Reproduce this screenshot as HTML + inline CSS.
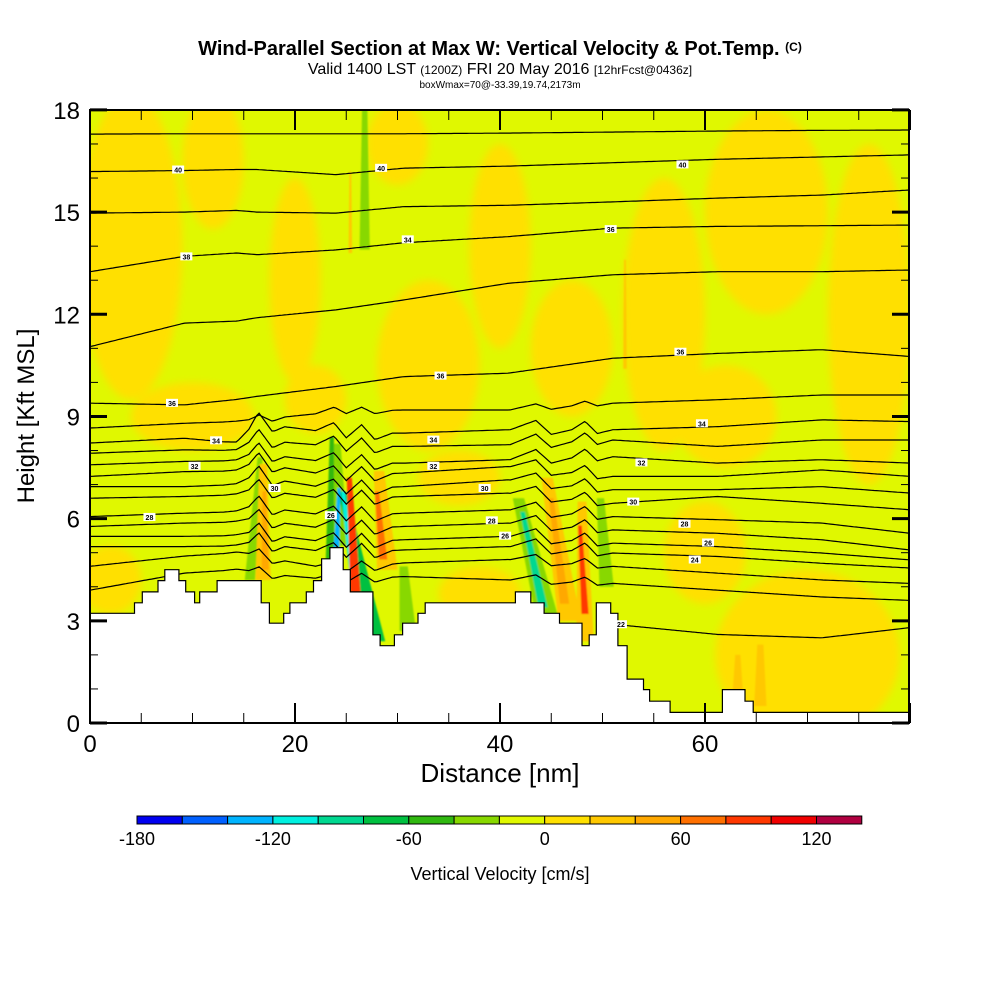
<!DOCTYPE html>
<html><head><meta charset="utf-8"><style>
html,body{margin:0;padding:0;background:#fff;}
svg{display:block;font-family:"Liberation Sans",sans-serif;}
</style></head><body>
<svg id="chart" width="1000" height="1000" viewBox="0 0 1000 1000" xmlns="http://www.w3.org/2000/svg">
<defs>
<clipPath id="plotclip"><rect x="90" y="110" width="819" height="613"/></clipPath>
<filter id="soft" x="-20%" y="-20%" width="140%" height="140%"><feGaussianBlur stdDeviation="4"/></filter>
<filter id="soft2" x="-50%" y="-50%" width="200%" height="200%"><feGaussianBlur stdDeviation="0.8"/></filter>
</defs>
<text x="500" y="55" text-anchor="middle" font-size="20" font-weight="bold">Wind-Parallel Section at Max W: Vertical Velocity &amp; Pot.Temp. <tspan font-size="12" dy="-4">(C)</tspan></text>
<text x="500" y="74" text-anchor="middle" font-size="16">Valid 1400 LST <tspan font-size="12">(1200Z)</tspan> FRI 20 May 2016 <tspan font-size="12">[12hrFcst@0436z]</tspan></text>
<text x="500" y="88" text-anchor="middle" font-size="10">boxWmax=70@-33.39,19.74,2173m</text>
<g id="plot" clip-path="url(#plotclip)"></g>
<g id="axes"></g>
<g id="cbar"></g>
<text x="500" y="782" text-anchor="middle" font-size="26">Distance [nm]</text>
<text transform="translate(34,416) rotate(-90)" text-anchor="middle" font-size="24">Height [Kft MSL]</text>
<text x="500" y="880" text-anchor="middle" font-size="18">Vertical Velocity [cm/s]</text>
</svg>
<script>
// ---- data ----
const colorLevels = [-180,-160,-140,-120,-100,-80,-60,-40,-20,0,20,40,60,80,100,120,140];
const colorFills = ["#0000f0","#0060ff","#00b4ff","#00f0e0","#00d890","#00c040","#30b810","#88d800","#e0f800","#ffe000","#ffc800","#ffa800","#ff7000","#ff3800","#f00000","#b00040"];
const cbarTicks = [-180,-120,-60,0,60,120];
const xTicks = [0,20,40,60];
const yTicks = [0,3,6,9,12,15,18];
const contourX = [0,9.2,14.3,16.3,24,30.6,40.8,51,61.2,71.4,80];
const c1=[17.29,17.3,17.3,17.3,17.3,17.3,17.32,17.35,17.38,17.4,17.41];
const c2=[16.19,16.22,16.25,16.25,16.1,16.29,16.35,16.45,16.55,16.62,16.68];
const c3=[14.97,15.0,15.05,15.0,14.97,15.16,15.2,15.3,15.41,15.5,15.65];
const c4=[13.25,13.7,13.8,13.75,13.89,14.1,14.28,14.53,14.58,14.6,14.62];
const c5=[11.05,11.74,11.8,11.9,12.13,12.42,12.91,13.16,13.25,13.25,13.3];
const c6=[9.39,9.34,9.5,9.59,9.88,10.17,10.27,10.71,10.85,10.96,10.76];
const c7=[8.66,8.8,8.85,8.9,9.14,9.19,9.19,9.39,9.49,9.63,9.63];
const c8=[8.22,8.36,8.22,8.8,8.51,8.51,8.61,8.61,8.7,8.9,8.85];
const c9=[7.92,8.02,8.0,8.31,8.12,8.12,8.17,8.31,8.12,8.31,8.31];
const c10=[7.58,7.68,7.7,7.92,7.63,7.63,7.73,7.82,7.63,7.73,7.63];
const c11=[7.24,7.38,7.4,7.63,7.24,7.34,7.53,7.24,7.24,7.43,7.24];
const c12=[6.94,6.94,7.0,7.24,6.85,6.94,7.14,6.85,6.85,6.94,6.75];
const c13=[6.6,6.65,6.7,6.85,6.55,6.65,6.75,6.45,6.65,6.45,6.26];
const c14=[6.06,6.16,6.2,6.36,6.06,6.16,6.26,6.06,5.97,5.87,5.57];
const c15=[5.77,5.87,5.9,5.97,5.67,5.77,5.87,5.67,5.57,5.38,5.08];
const c16=[5.48,5.48,5.5,5.57,5.28,5.38,5.48,5.28,5.18,4.99,4.79];
const c17=[5.18,5.18,5.2,5.28,4.99,5.08,5.18,4.99,4.89,4.69,4.55];
const c18=[4.6,4.9,5.0,4.9,4.5,4.7,4.8,4.6,4.4,4.2,4.1];
const c19=[3.9,4.4,4.5,4.4,4.2,4.3,4.2,4.1,3.9,3.7,3.6];
const c20=[null,null,null,null,null,null,null,2.9,2.6,2.5,2.8];
const contours=[c1,c2,c3,c4,c5,c6,c7,c8,c9,c10,c11,c12,c13,c14,c15,c16,c17,c18,c19,c20];
// mountain-wave displacement (kft) near the ridges, scaled per contour
const waveX=[13,15.5,16.5,17.8,19,22,23.8,25,26.5,27.8,29.5,41,43.5,45,47,48.3,49.5,51];
const waveDZ=[0,0.1,0.55,-0.35,0,0,0.55,-0.25,0.45,-0.35,0,0,0.5,-0.25,0,0.45,-0.2,0];
const waveAmp=[0,0,0,0,0,0,0.25,0.55,0.55,0.55,0.55,0.55,0.55,0.55,0.55,0.55,0.55,0.4,0.35,0];
const contourLabels=[["40",8.6,16.25],["40",57.8,16.4],["40",28.4,16.3],["38",9.4,13.7],["34",31,14.2],["36",50.8,14.5],["36",57.6,10.9],["36",34.2,10.2],["36",8,9.4],["34",12.3,8.3],["34",33.5,8.32],["34",59.7,8.8],["32",10.2,7.55],["32",33.5,7.55],["32",53.8,7.65],["30",18,6.9],["30",38.5,6.9],["30",53,6.5],["28",5.8,6.05],["28",39.2,5.95],["28",58,5.85],["26",40.5,5.5],["26",60.3,5.3],["26",23.5,6.1],["24",59,4.8],["22",51.8,2.9]];
const terrainX=[0,4.34,5.1,6.63,7.3,8.67,9.34,10.2,10.7,12.4,16.7,17.5,18.9,19.5,21.1,21.8,22.6,23.4,24.7,25.4,27.6,28.3,29.7,30.5,32.0,32.7,41.5,43.0,44.3,45.8,48.0,48.7,49.4,50.8,51.5,52.4,54.0,54.6,56.6,61.7,63.9,64.7,80];
const terrainZ=[3.22,3.53,3.85,4.18,4.5,4.18,3.85,3.53,3.85,4.18,3.53,2.93,3.22,3.53,3.85,4.18,4.82,5.15,4.5,3.85,2.59,2.27,2.59,2.93,3.22,3.53,3.85,3.53,3.22,2.93,2.27,2.59,3.53,3.22,2.27,1.29,0.98,0.64,0.31,0.98,0.64,0.31,0.31];
const patchCX=[4,12,20,33,40,47,56,66,76,70,60,10,36,38,2,30,62,22];
const patchCZ=[14,16.5,13,10.5,14,11,12,15,12,2,5,9,7.2,3.8,4.2,17,9,9.5];
const patchRX=[5,3,2.5,5,3,4,4,6,4,9,4,6,4,4,3,3,5,3];
const patchRZ=[4.5,2,3,2.5,3,2,4,3,5,2.5,1.5,1,0.8,0.8,1,1.2,1.5,1];
const patchV=[10,10,10,10,10,10,10,10,10,10,10,10,10,10,10,10,10,10];
const streakX0=[15.6,16.9,17.1,24.3,23.4,28.0,26.1,25.9,29.0,28.6,31.0,44.6,44.2,46.8,46.3,48.3,48.3,50.4,26.8,25.4,52.2,65.4,63.2,24.0];
const streakZ0=[4.2,4.2,4.5,5.2,4.8,2.4,3.0,3.8,4.5,4.8,2.7,3.1,3.4,3.0,3.5,2.4,3.2,4.0,13.9,13.8,10.4,0.5,0.9,4.8];
const streakX1=[16.6,16.9,17.0,24.0,23.6,24.6,24.7,25.3,28.2,28.0,30.6,41.8,42.2,44.6,45.0,48.0,47.8,49.8,26.8,25.4,52.2,65.4,63.2,24.3];
const streakZ1=[7.8,7.6,6.8,8.2,8.4,6.8,6.8,7.2,7.4,6.8,4.6,6.6,6.2,7.2,6.6,6.5,5.8,6.6,18.2,16.2,13.6,2.3,2.0,6.9];
const streakW=[1.0,1.5,0.7,1.8,0.8,1.6,0.7,1.0,2.0,0.8,1.6,2.2,0.9,2.2,0.9,1.7,0.7,1.4,1.0,0.35,0.35,1.2,1.0,0.6];
const streakV=[-30,30,50,-30,-50,-70,-110,90,30,70,-30,-30,-90,30,50,30,80,-30,-30,30,30,30,30,-130];

// ---- axis functions ----
const X = nm => 90 + nm*10.25;
const Y = k => 723 - k*34.06;
const CBX = v => 137 + (v+180)*(45.3/20);
const NS="http://www.w3.org/2000/svg";
function mk(tag, attrs, parent){const e=document.createElementNS(NS,tag);for(const k in attrs)e.setAttribute(k,attrs[k]);parent.appendChild(e);return e;}
function colorOf(v){for(let i=0;i<colorFills.length;i++){if(v<colorLevels[i+1])return colorFills[i];}return colorFills[colorFills.length-1];}
const plot=document.getElementById('plot');
const axes=document.getElementById('axes');
const cbar=document.getElementById('cbar');

const bg=mk('rect',{x:90,y:110,width:819,height:613,fill:"#e0f800"},plot);


const pg=mk('g',{filter:"url(#soft)"},plot);


for(let i=0;i<patchCX.length;i++){
  const e=mk('ellipse',{cx:X(patchCX[i]),cy:Y(patchCZ[i]),rx:patchRX[i]*10.25,ry:patchRZ[i]*34.06,fill:colorOf(patchV[i])},pg);
  
  
}
const sg=mk('g',{filter:"url(#soft2)"},plot);


for(let i=0;i<streakX0.length;i++){
  const w=streakW[i]/2;
  const pts=[[X(streakX0[i]-w),Y(streakZ0[i])],[X(streakX0[i]+w),Y(streakZ0[i])],[X(streakX1[i]+w*0.5),Y(streakZ1[i])],[X(streakX1[i]-w*0.5),Y(streakZ1[i])]];
  const p=mk('polygon',{points:pts.map(q=>q.join(',')).join(' '),fill:colorOf(streakV[i])},sg);
  
  
}
function interp(arr, x){
  let i=0; while(i<contourX.length-2 && x>contourX[i+1]) i++;
  const a=arr[i],b=arr[i+1]; if(a==null||b==null) return null;
  const t=(x-contourX[i])/(contourX[i+1]-contourX[i]); return a+(b-a)*t;
}
function wave(x){
  if(x<=waveX[0]||x>=waveX[waveX.length-1]) return 0;
  let i=0; while(i<waveX.length-2 && x>waveX[i+1]) i++;
  const t=(x-waveX[i])/(waveX[i+1]-waveX[i]); return waveDZ[i]+(waveDZ[i+1]-waveDZ[i])*t;
}
const cg=mk('g',{fill:"none",stroke:"#000","stroke-width":1.2},plot);


contours.forEach((arr,ci)=>{
  let d="";let pen=false;
  for(let x=0;x<=80;x+=0.25){
    let z=interp(arr,x);
    if(z==null){pen=false;continue;}
    z+=wave(x)*waveAmp[ci];
    d+=(pen?"L":"M")+X(x).toFixed(1)+","+Y(z).toFixed(1);pen=true;
  }
  const p=mk('path',{d:d},cg);
  
  
});
let td="M"+X(0)+","+Y(0);
for(let i=0;i<terrainX.length;i++){
  const x0=terrainX[i],x1=(i+1<terrainX.length)?terrainX[i+1]:80;
  td+="L"+X(x0).toFixed(1)+","+Y(terrainZ[i]).toFixed(1)+"L"+X(x1).toFixed(1)+","+Y(terrainZ[i]).toFixed(1);
}
td+="L"+X(80)+","+Y(0)+"Z";
const terr=mk('path',{d:td,fill:"#fff",stroke:"#000","stroke-width":1.2},plot);


contourLabels.forEach(l=>{
  const g=mk('g',{},plot);
  
  
  mk('rect',{x:X(l[1])-6,y:Y(l[2])-4,width:12,height:8,fill:"#fff"},g);
  const t=mk('text',{x:X(l[1]),y:Y(l[2])+3,"text-anchor":"middle","font-size":7,"font-weight":"bold"},g);
  t.textContent=l[0];
});
const fr=mk('rect',{x:90,y:110,width:819,height:613,fill:"none",stroke:"#000","stroke-width":2},axes);


for(let v=0;v<=80;v+=5){
  const major=v%20===0, L=major?20:10;
  const t1=mk('line',{x1:X(v),x2:X(v),y1:723,y2:723-L,stroke:"#000","stroke-width":major?2:1},axes);
  
  
  const t2=mk('line',{x1:X(v),x2:X(v),y1:110,y2:110+L,stroke:"#000","stroke-width":major?2:1},axes);
  
  
}
xTicks.forEach(v=>{
  const t=mk('text',{x:X(v),y:752,"text-anchor":"middle","font-size":24},axes);
  
  
  t.textContent=v;
});
for(let v=0;v<=18;v+=1){
  const major=v%3===0, L=major?17:8;
  const t1=mk('line',{x1:90,x2:90+L,y1:Y(v),y2:Y(v),stroke:"#000","stroke-width":major?3:1},axes);
  
  
  const t2=mk('line',{x1:909,x2:909-L,y1:Y(v),y2:Y(v),stroke:"#000","stroke-width":major?3:1},axes);
  
  
}
yTicks.forEach(v=>{
  const t=mk('text',{x:80,y:Y(v)+9,"text-anchor":"end","font-size":24},axes);
  
  
  t.textContent=v;
});
for(let i=0;i<colorFills.length;i++){
  const r=mk('rect',{x:CBX(colorLevels[i]),y:816,width:CBX(colorLevels[i+1])-CBX(colorLevels[i]),height:8,fill:colorFills[i],stroke:"#000","stroke-width":1},cbar);
  
  
}
cbarTicks.forEach(v=>{
  const t=mk('text',{x:CBX(v),y:845,"text-anchor":"middle","font-size":18},cbar);
  
  
  t.textContent=v;
});
</script>
</body></html>
